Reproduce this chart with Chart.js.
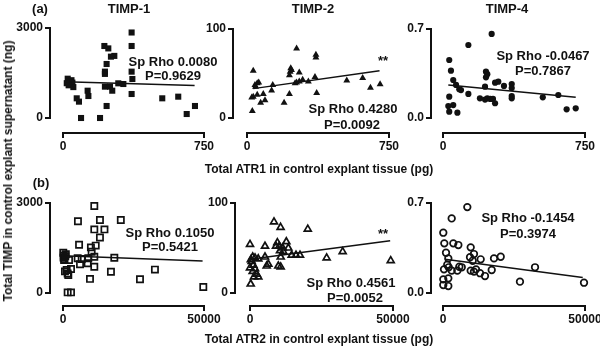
<!DOCTYPE html>
<html>
<head>
<meta charset="utf-8">
<script src="https://cdn.jsdelivr.net/npm/chart.js@4.4.0/dist/chart.umd.min.js"></script>
<style>
body { margin: 0; background: #fff; }
#wrap { position: relative; width: 600px; height: 347px; overflow: hidden; font-family: "Liberation Sans", Arial, sans-serif; color: #111; }
canvas { position: absolute; left: 0; top: 0; }
.t { position: absolute; white-space: nowrap; transform: translate(-50%, -50%); font-weight: bold; }
.s { font-size: 13px; }
.h { font-size: 13px; }
.ax { font-size: 12px; }
</style>
</head>
<body>
<div id="wrap">
  <canvas id="c1" width="600" height="347"></canvas>
  <canvas id="c2" width="600" height="347"></canvas>
  <canvas id="c3" width="600" height="347"></canvas>
  <canvas id="c4" width="600" height="347"></canvas>
  <canvas id="c5" width="600" height="347"></canvas>
  <canvas id="c6" width="600" height="347"></canvas>

  <div class="t h" style="left:40px;top:8px">(a)</div>
  <div class="t h" style="left:129px;top:8px">TIMP-1</div>
  <div class="t h" style="left:313px;top:8px">TIMP-2</div>
  <div class="t h" style="left:507px;top:8px">TIMP-4</div>
  <div class="t h" style="left:41px;top:182px">(b)</div>

  <div class="t s" style="left:173px;top:61px">Sp Rho 0.0080</div>
  <div class="t s" style="left:173px;top:75px">P=0.9629</div>
  <div class="t s" style="left:353px;top:108px">Sp Rho 0.4280</div>
  <div class="t s" style="left:352px;top:124px">P=0.0092</div>
  <div class="t s" style="left:383px;top:60px">**</div>
  <div class="t s" style="left:543px;top:55px">Sp Rho -0.0467</div>
  <div class="t s" style="left:543px;top:70px">P=0.7867</div>

  <div class="t s" style="left:170px;top:232px">Sp Rho 0.1050</div>
  <div class="t s" style="left:170px;top:246px">P=0.5421</div>
  <div class="t s" style="left:351px;top:282px">Sp Rho 0.4561</div>
  <div class="t s" style="left:355px;top:297px">P=0.0052</div>
  <div class="t s" style="left:383px;top:233px">**</div>
  <div class="t s" style="left:528px;top:217px">Sp Rho -0.1454</div>
  <div class="t s" style="left:528px;top:233px">P=0.3974</div>

  <div class="t ax" style="left:319px;top:169px">Total ATR1 in control explant tissue (pg)</div>
  <div class="t ax" style="left:319px;top:339px">Total ATR2 in control explant tissue (pg)</div>
  <div class="t ax" style="left:8px;top:171px;transform:translate(-50%,-50%) rotate(-90deg)">Total TIMP in control explant supernatant (ng)</div>
</div>

<script>
// panel (a): ATR1 (pg) vs TIMP (ng)
const atr1Timp1X = [365,365,220,241,273,255,232,223,223,365,369,25,45,20,50,55,30,294,321,250,223,262,131,135,73,85,365,232,528,613,702,658,96,197];
const atr1Timp1Y = [2850,2400,2400,2320,2070,2045,1800,1545,1470,1545,1300,1310,1260,1160,1180,1030,1090,1156,1133,1045,1045,910,910,733,656,545,800,400,656,711,400,133,0,0];

const atr1Timp2X = [262,364,364,33,231,228,235,224,276,359,294,324,254,262,276,54,62,42,136,527,611,703,652,368,130,224,86,54,33,25,95,72,196,28,45];
const atr1Timp2Y = [78,71,68,53,56,52,54,48,51,46,43,41,39,40,41,39,40,37,37,42,45,38,34,28,31,27,27,26,24,23,20,17,17,8,35];

const atr1Timp4X = [257,134,33,42,54,69,86,95,33,134,28,54,33,76,227,234,227,222,275,292,322,195,222,234,250,264,275,363,363,363,363,527,609,653,701];
const atr1Timp4Y = [0.661,0.574,0.456,0.372,0.299,0.26,0.226,0.22,0.168,0.189,0.094,0.102,0.05,0.042,0.364,0.345,0.32,0.246,0.278,0.286,0.252,0.155,0.145,0.155,0.15,0.15,0.116,0.267,0.236,0.173,0.155,0.163,0.181,0.068,0.076];

// panel (b): ATR2 (pg) vs TIMP (ng)
const atr2Timp1X = [11100,5300,13100,20500,11100,14700,13100,5700,9900,11600,10160,100,300,200,500,800,400,1000,2130,5200,6630,8970,11100,18200,6030,8750,11100,1300,2840,1880,700,1650,17000,32600,9570,27300,49750,1650,2840];
const atr2Timp1Y = [2900,2390,2433,2433,2120,2120,1850,1610,1520,1580,1377,1340,1250,1180,1130,1220,1100,1290,1100,1157,1133,1157,1210,1177,957,990,877,767,800,600,720,650,710,780,470,460,200,20,20];

const atr2Timp2X = [8390,10700,20200,0,5240,9560,12700,9090,10250,11420,13400,10490,11650,940,1750,2900,5240,10730,14570,16080,17480,26800,32400,49200,580,1170,0,1750,940,2330,1400,2900,5830,6410,9900,10730,250,300];
const atr2Timp2Y = [79,73,71,54,52,56,57,52,52,50,50,47,46,40,39,38,40,40,42,42,42,39,46,36,35,31,28,27,24,21,18,18,30,32,30,29,10,37];

const atr2Timp4X = [8560,3060,100,460,3630,5400,9750,1060,1870,10900,9510,10460,13270,17960,20320,1500,2000,5750,6600,350,3060,5050,9750,10900,11620,13030,17150,14780,100,1870,100,1870,27100,32400,49650];
const atr2Timp4Y = [0.668,0.58,0.469,0.386,0.386,0.373,0.355,0.313,0.269,0.303,0.278,0.251,0.262,0.269,0.282,0.22,0.2,0.204,0.2,0.184,0.174,0.174,0.174,0.166,0.184,0.154,0.179,0.132,0.106,0.114,0.062,0.054,0.088,0.2,0.08];

// regression lines (end points)
const fitA1X = [10, 700],   fitA1Y = [1210, 1080];
const fitA2X = [33, 700],   fitA2Y = [33, 53];
const fitA3X = [28, 701],   fitA3Y = [0.26, 0.163];
const fitB1X = [0, 49500],  fitB1Y = [1240, 1070];
const fitB2X = [0, 49000],  fitB2Y = [37.4, 58];
const fitB3X = [700, 49200], fitB3Y = [0.262, 0.121];

// axis ticks
const atr1Ticks = [0, 750];
const atr2Ticks = [0, 50000];
const timp1Ticks = [0, 3000];
const timp2Ticks = [0, 100];
const timp4Ticks = [0, 0.7];
const timp4TickLabels = ['0.0', '0.7'];

const ink = '#111';

// GraphPad style axes: detached from the data area, ticks only at the ends
const offsetAxes = {
    id: 'offsetAxes',
    afterDraw(chart, args, opts) {
        const ctx = chart.ctx;
        const xs = chart.scales.x, ys = chart.scales.y;
        const ax = chart.chartArea.left - opts.gapX;
        const ay = chart.chartArea.bottom + opts.gapY;
        ctx.save();
        ctx.strokeStyle = ink;
        ctx.fillStyle = ink;
        ctx.lineWidth = 2;
        ctx.beginPath();
        ctx.moveTo(ax, ys.getPixelForValue(ys.max) - 1);
        ctx.lineTo(ax, ys.getPixelForValue(ys.min) + 1);
        ctx.moveTo(xs.getPixelForValue(xs.min) - 1, ay);
        ctx.lineTo(xs.getPixelForValue(xs.max) + 1, ay);
        opts.yTicks.forEach(v => {
            const py = ys.getPixelForValue(v);
            ctx.moveTo(ax - 5, py);
            ctx.lineTo(ax, py);
        });
        opts.xTicks.forEach(v => {
            const px = xs.getPixelForValue(v);
            ctx.moveTo(px, ay);
            ctx.lineTo(px, ay + 5);
        });
        ctx.stroke();

        ctx.font = 'bold 12px "Liberation Sans", Arial, sans-serif';
        ctx.textAlign = 'right';
        ctx.textBaseline = 'middle';
        opts.yTicks.forEach((v, i) => {
            const lbl = opts.yLabels ? opts.yLabels[i] : String(v);
            ctx.fillText(lbl, ax - 7, ys.getPixelForValue(v));
        });
        ctx.textAlign = 'center';
        opts.xTicks.forEach(v => {
            ctx.fillText(String(v), xs.getPixelForValue(v), ay + 14);
        });
        ctx.restore();
    }
};

function toPoints(xs, ys) {
    return xs.map((v, i) => ({ x: v, y: ys[i] }));
}

function panel(id, area, gapX, gapY, xs, ys, fitX, fitY, xTicks, yTicks, yLabels, marker) {
    new Chart(document.getElementById(id), {
        type: 'scatter',
        data: {
            datasets: [{
                data: toPoints(xs, ys),
                pointStyle: marker.style,
                pointRadius: marker.r,
                pointHoverRadius: marker.r,
                backgroundColor: marker.fill,
                borderColor: ink,
                borderWidth: marker.bw,
                clip: false
            }, {
                data: toPoints(fitX, fitY),
                showLine: true,
                pointRadius: 0,
                borderColor: ink,
                borderWidth: 1.5,
                clip: false
            }]
        },
        options: {
            responsive: false,
            animation: false,
            devicePixelRatio: 1,
            layout: {
                padding: { left: area[0], right: 600 - area[1], top: area[2], bottom: 347 - area[3] }
            },
            scales: {
                x: { type: 'linear', min: xTicks[0], max: xTicks[1], display: false },
                y: { type: 'linear', min: yTicks[0], max: yTicks[1], display: false }
            },
            plugins: {
                legend: { display: false },
                tooltip: { enabled: false },
                offsetAxes: { gapX: gapX, gapY: gapY, xTicks: xTicks, yTicks: yTicks, yLabels: yLabels }
            }
        },
        plugins: [offsetAxes]
    });
}

const filledSquare = { style: 'rect', r: 4.3, fill: ink, bw: 0 };
const filledTriangle = { style: 'triangle', r: 4, fill: ink, bw: 0 };
const filledCircle = { style: 'circle', r: 3.1, fill: ink, bw: 0 };
const openSquare = { style: 'rect', r: 4.4, fill: 'rgba(0,0,0,0)', bw: 1.7 };
const openTriangle = { style: 'triangle', r: 4, fill: 'rgba(0,0,0,0)', bw: 1.7 };
const openCircle = { style: 'circle', r: 3.3, fill: 'rgba(0,0,0,0)', bw: 1.7 };

// area = [left, right, top, bottom] of the data region in page pixels
panel('c1', [63, 204, 28, 118], 13, 15, atr1Timp1X, atr1Timp1Y, fitA1X, fitA1Y, atr1Ticks, timp1Ticks, null, filledSquare);
panel('c2', [247, 389, 29, 118], 14, 15, atr1Timp2X, atr1Timp2Y, fitA2X, fitA2Y, atr1Ticks, timp2Ticks, null, filledTriangle);
panel('c3', [443, 585, 29, 118], 12, 15, atr1Timp4X, atr1Timp4Y, fitA3X, fitA3Y, atr1Ticks, timp4Ticks, timp4TickLabels, filledCircle);
panel('c4', [63, 204, 203, 293], 13, 13, atr2Timp1X, atr2Timp1Y, fitB1X, fitB1Y, atr2Ticks, timp1Ticks, null, openSquare);
panel('c5', [250, 393, 203, 293], 15, 13, atr2Timp2X, atr2Timp2Y, fitB2X, fitB2Y, atr2Ticks, timp2Ticks, null, openTriangle);
panel('c6', [443, 585, 203, 293], 12, 13, atr2Timp4X, atr2Timp4Y, fitB3X, fitB3Y, atr2Ticks, timp4Ticks, timp4TickLabels, openCircle);
</script>
</body>
</html>
